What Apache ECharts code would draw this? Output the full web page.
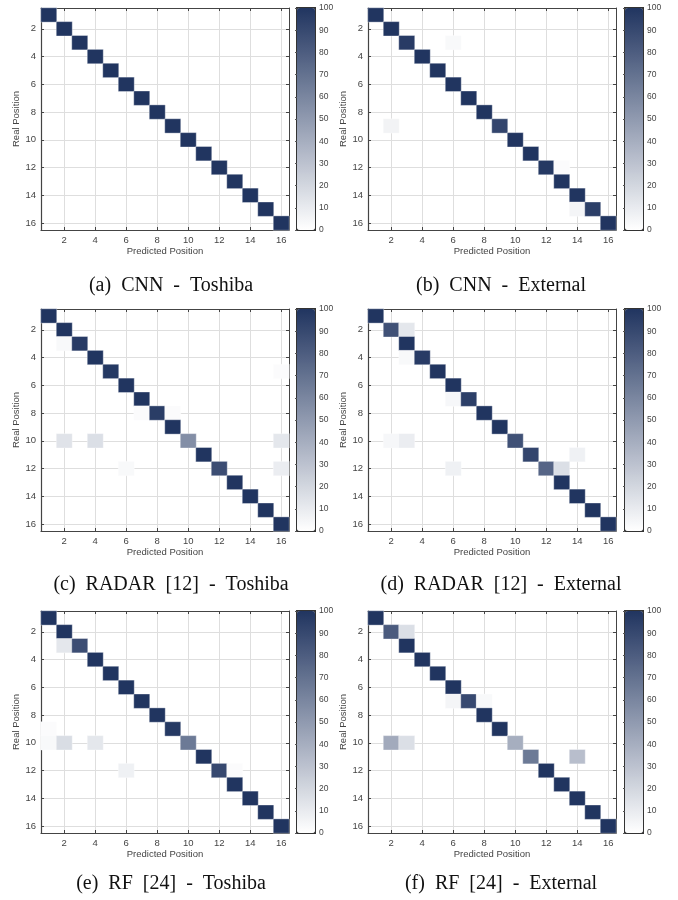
<!DOCTYPE html>
<html>
<head>
<meta charset="utf-8">
<script src="https://cdn.jsdelivr.net/npm/echarts@6/dist/echarts.min.js"></script>
<style>
html,body{margin:0;padding:0;background:#fff;}
#chart{width:678px;height:900px;}
</style>
</head>
<body>
<div id="chart"></div>
<script>
// ---- data: [real position, predicted position, percent] (zero cells omitted) ----
const positions = ['1','2','3','4','5','6','7','8','9','10','11','12','13','14','15','16'];
const colorbarTicks = [0,10,20,30,40,50,60,70,80,90,100];
const captions = ['(a)  CNN  -  Toshiba','(b)  CNN  -  External','(c)  RADAR  [12]  -  Toshiba','(d)  RADAR  [12]  -  External','(e)  RF  [24]  -  Toshiba','(f)  RF  [24]  -  External'];

const cnnToshiba = [[1,1,100],[2,2,100],[3,3,100],[4,4,100],[5,5,100],[6,6,100],[7,7,100],[8,8,100],
  [9,9,100],[10,10,100],[11,11,100],[12,12,100],[13,13,100],[14,14,100],[15,15,100],[16,16,100]];
const cnnExternal = [[1,1,100],[2,2,100],[3,3,97],[3,6,3],[4,4,100],[5,5,100],[6,6,100],[7,7,100],[8,8,100],
  [9,2,6],[9,9,92],[10,10,100],[11,11,100],[12,12,98],[12,13,2],[13,13,100],[14,14,100],[15,14,5],[15,15,95],[16,16,100]];
const radarToshiba = [[1,1,100],[2,2,100],[3,2,3],[3,3,97],[4,4,100],[5,5,98],[5,16,2],[6,6,100],[7,7,100],
  [8,7,2],[8,8,96],[8,9,2],[9,9,100],[10,2,14],[10,4,16],[10,10,56],[10,16,12],[11,11,100],
  [12,6,3],[12,12,88],[12,16,9],[13,13,100],[14,14,100],[15,15,100],[16,16,100]];
const radarExternal = [[1,1,100],[2,2,86],[2,3,12],[3,3,100],[4,3,3],[4,4,97],[5,5,100],[6,6,100],[7,6,4],[7,7,95],
  [8,8,100],[9,9,100],[10,2,4],[10,3,9],[10,10,86],[11,11,92],[11,14,7],[12,6,7],[12,12,76],[12,13,16],
  [13,13,100],[14,14,100],[15,15,100],[16,16,100]];
const rfToshiba = [[1,1,100],[2,2,100],[3,2,12],[3,3,88],[4,4,100],[5,5,100],[6,6,100],[7,7,100],[8,8,100],
  [9,1,2],[9,9,98],[10,1,3],[10,2,17],[10,4,12],[10,10,66],[11,11,100],[12,6,7],[12,12,90],[12,13,2],
  [13,13,100],[14,14,100],[15,15,100],[16,16,100]];
const rfExternal = [[1,1,100],[2,2,81],[2,3,16],[3,3,100],[4,4,100],[5,5,100],[6,6,100],[7,6,5],[7,7,90],[7,8,3],
  [8,8,100],[9,9,100],[10,2,42],[10,3,16],[10,10,40],[11,11,66],[11,14,32],[12,12,100],[13,13,100],
  [14,14,100],[15,15,100],[16,16,100]];

const matrices = [cnnToshiba, cnnExternal, radarToshiba, radarExternal, rfToshiba, rfExternal];

// ---- layout ----
const colLeft = [41, 368];
const cbLeft = [297, 625];
const rowTop = [8, 309, 611];
const plotW = 248, plotH = 222, cbW = 18;
const captionX = [171, 501];
const captionY = [276, 575, 874];
const lowColor = '#ffffff', highColor = '#213560';
const textColor = '#444444', axisColor = '#444444', gridColor = '#dedede';
const sans = 'Liberation Sans';
const evenOnly = function (idx) { return idx % 2 === 1; };

const grid = [], xAxis = [], yAxis = [], series = [], visualMap = [], title = [];

matrices.forEach(function (m, i) {
  const r = Math.floor(i / 2), c = i % 2;
  const g = 2 * i;
  grid.push({left: colLeft[c], top: rowTop[r], width: plotW, height: plotH, containLabel: false});
  grid.push({left: cbLeft[c], top: rowTop[r], width: cbW, height: plotH, show: true,
    borderColor: '#333', borderWidth: 2, backgroundColor: 'transparent'});

  const labelStyle = {color: textColor, fontSize: 9.5, fontFamily: sans};
  xAxis.push({type: 'category', gridIndex: g, data: positions, position: 'bottom',
    axisLine: {show: true, onZero: false, lineStyle: {color: axisColor, width: 1.2}},
    axisTick: {show: true, inside: true, alignWithLabel: true, interval: evenOnly, length: 3, lineStyle: {color: axisColor}},
    axisLabel: Object.assign({interval: evenOnly, margin: 5}, labelStyle),
    splitLine: {show: true, alignWithLabel: true, interval: evenOnly, lineStyle: {color: gridColor, width: 1}},
    name: 'Predicted Position', nameLocation: 'middle', nameGap: 16, nameTextStyle: labelStyle});
  xAxis.push({type: 'category', gridIndex: g, data: positions, position: 'top',
    axisLine: {show: true, onZero: false, lineStyle: {color: axisColor, width: 1}},
    axisTick: {show: true, inside: true, alignWithLabel: true, interval: evenOnly, length: 3, lineStyle: {color: axisColor}},
    axisLabel: {show: false}, splitLine: {show: false}});
  xAxis.push({type: 'value', gridIndex: g + 1, min: 0, max: 1, show: false});

  yAxis.push({type: 'category', gridIndex: g, data: positions, inverse: true, position: 'left',
    axisLine: {show: true, onZero: false, lineStyle: {color: axisColor, width: 1.2}},
    axisTick: {show: true, inside: true, alignWithLabel: true, interval: evenOnly, length: 3, lineStyle: {color: axisColor}},
    axisLabel: Object.assign({interval: evenOnly, margin: 5}, labelStyle),
    splitLine: {show: true, alignWithLabel: true, interval: evenOnly, lineStyle: {color: gridColor, width: 1}},
    name: 'Real Position', nameLocation: 'middle', nameGap: 13, nameRotate: 90, nameTextStyle: labelStyle});
  yAxis.push({type: 'category', gridIndex: g, data: positions, inverse: true, position: 'right',
    axisLine: {show: true, onZero: false, lineStyle: {color: axisColor, width: 1}},
    axisTick: {show: true, inside: true, alignWithLabel: true, interval: evenOnly, length: 3, lineStyle: {color: axisColor}},
    axisLabel: {show: false}, splitLine: {show: false}});
  yAxis.push({type: 'value', gridIndex: g + 1, min: colorbarTicks[0], max: colorbarTicks[colorbarTicks.length - 1],
    interval: colorbarTicks[1] - colorbarTicks[0], position: 'right',
    axisLine: {show: false},
    axisTick: {show: true, inside: true, length: 2, lineStyle: {color: '#555'}},
    axisLabel: {color: textColor, fontSize: 8.5, fontFamily: sans, margin: 4},
    splitLine: {show: false}});

  series.push({type: 'heatmap', xAxisIndex: 3 * i, yAxisIndex: 3 * i,
    data: m.map(function (d) { return [d[1] - 1, d[0] - 1, d[2]]; }),
    itemStyle: {borderColor: 'rgba(255,255,255,0.35)', borderWidth: 1},
    emphasis: {disabled: true}, z: 3});

  visualMap.push({type: 'continuous', seriesIndex: i, min: 0, max: 100, calculable: false,
    show: true, orient: 'vertical', left: cbLeft[c], top: rowTop[r], itemWidth: cbW, itemHeight: plotH,
    padding: 0, text: null, showLabel: false, hoverLink: false, z: 4,
    inRange: {color: [lowColor, highColor]}});

  title.push({text: captions[i], left: captionX[c], top: captionY[r], textAlign: 'center', padding: 0,
    textStyle: {fontFamily: 'Liberation Serif', fontSize: 20, fontWeight: 'normal', color: '#111'}});
});

const chart = echarts.init(document.getElementById('chart'), null, {renderer: 'canvas'});
chart.setOption({animation: false, backgroundColor: '#fff', title: title, grid: grid,
  xAxis: xAxis, yAxis: yAxis, visualMap: visualMap, series: series});
</script>
</body>
</html>
